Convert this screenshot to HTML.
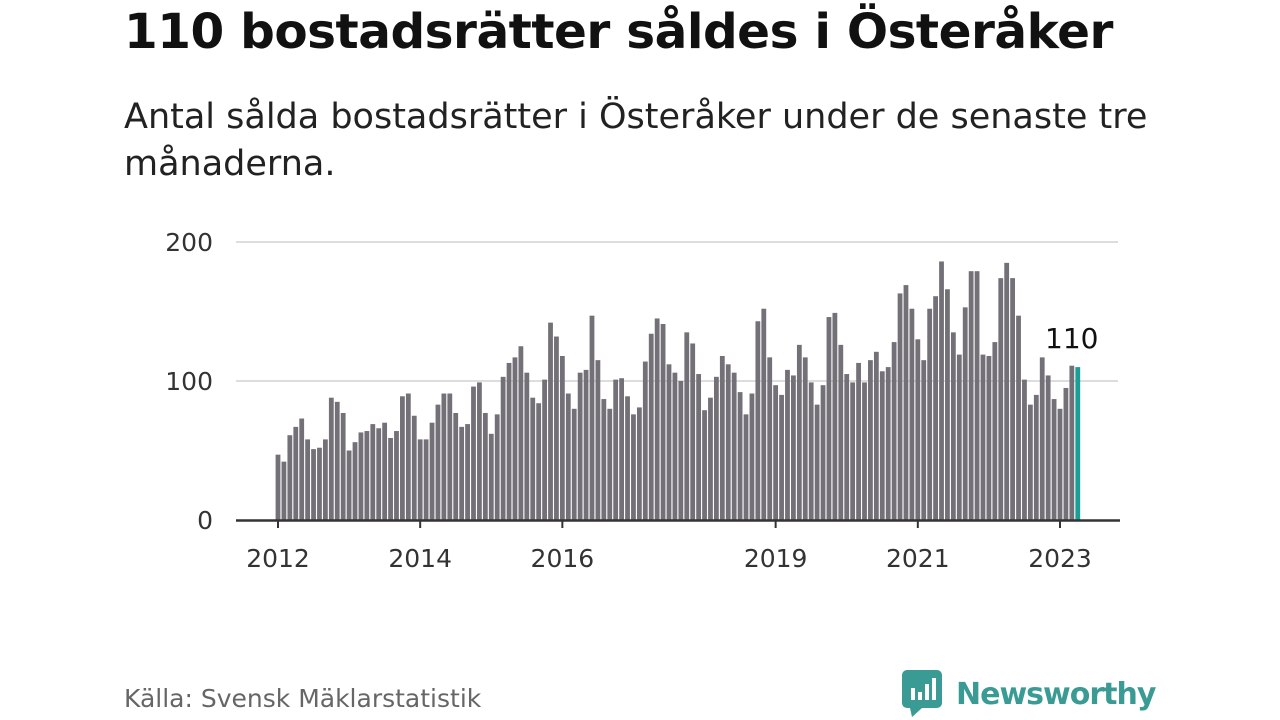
<!DOCTYPE html>
<html><head><meta charset="utf-8"><style>
body{margin:0;width:1280px;height:720px;background:#fff;font-family:"Liberation Sans","DejaVu Sans",sans-serif;position:relative;overflow:hidden}
.t{position:absolute;left:124px;top:4px;font-size:48.5px;font-weight:bold;color:#111;font-family:"DejaVu Sans","Liberation Sans",sans-serif;letter-spacing:-0.5px;white-space:nowrap}
.s{position:absolute;left:124px;top:94px;font-size:35px;line-height:47px;color:#222;width:1110px;font-family:"DejaVu Sans","Liberation Sans",sans-serif}
.src{position:absolute;left:124px;top:684px;font-size:25px;color:#666;font-family:"DejaVu Sans","Liberation Sans",sans-serif}
</style></head><body>
<div class="t">110 bostadsrätter såldes i Österåker</div>
<div class="s">Antal sålda bostadsrätter i Österåker under de senaste tre månaderna.</div>
<svg id="c" width="1280" height="720" style="position:absolute;left:0;top:0"></svg>
<div class="src">Källa: Svensk Mäklarstatistik</div>
<div style="position:absolute;left:902px;top:670px;display:flex;align-items:center">
<svg width="42" height="48"><rect x="0" y="0" width="40" height="38" rx="5" fill="#3a9b94"/><polygon points="8,38 20,38 10,47" fill="#3a9b94"/><rect x="9" y="18" width="4" height="12" fill="#fff"/><rect x="16" y="22" width="4" height="8" fill="#fff"/><rect x="23" y="14" width="4" height="16" fill="#fff"/><rect x="30" y="8" width="4" height="22" fill="#fff"/></svg>
<span style="margin-left:12px;font-size:30px;font-weight:bold;color:#3a9b94;font-family:'DejaVu Sans',sans-serif;letter-spacing:-1px">Newsworthy</span></div>
<script>
const values=[47,42,61,67,73,58,51,52,58,88,85,77,50,56,63,64,69,66,70,59,64,89,91,75,58,58,70,83,91,91,77,67,69,96,99,77,62,76,103,113,117,125,106,88,84,101,142,132,118,91,80,106,108,147,115,87,80,101,102,89,76,81,114,134,145,141,112,106,100,135,127,105,79,88,103,118,112,106,92,76,91,143,152,117,97,90,108,104,126,117,99,83,97,146,149,126,105,99,113,99,115,121,107,110,128,163,169,152,130,115,152,161,186,166,135,119,153,179,179,119,118,128,174,185,174,147,101,83,90,117,104,87,80,95,111,110];
const yTicks=[0,100,200];
const xTickYears=[2012,2014,2016,2019,2021,2023];
const startYear=2012;
const NS="http://www.w3.org/2000/svg",svg=document.getElementById('c');
const x=i=>278+i*(1060-278)/132, y=v=>520-v*1.39;
function mk(t,a){const e=document.createElementNS(NS,t);for(const k in a)e.setAttribute(k,a[k]);svg.appendChild(e);return e;}
yTicks.forEach(v=>{
 if(v>0){const g=mk('line',{x1:236,x2:1118,y1:y(v),y2:y(v),stroke:'#ddd','stroke-width':2});
 
 }
 const t=mk('text',{x:213,y:y(v)+9,'text-anchor':'end','font-size':25,fill:'#333','font-family':'DejaVu Sans,sans-serif'});t.textContent=v;
 
 
});
values.forEach((v,i)=>{
 const last=i===values.length-1;
 const r=mk('rect',{x:x(i)-2.4,y:y(v),width:4.8,height:v*1.39,fill:last?'#1a9e96':'#737177'});
 
 
});
const ax=mk('line',{x1:236,x2:1120,y1:520.5,y2:520.5,stroke:'#333','stroke-width':2.5});


xTickYears.forEach(yr=>{
 const xx=x((yr-startYear)*12);
 const tk=mk('line',{x1:xx,x2:xx,y1:520,y2:528,stroke:'#333','stroke-width':2});
 
 
 const t=mk('text',{x:xx,y:567,'text-anchor':'middle','font-size':25,fill:'#333','font-family':'DejaVu Sans,sans-serif'});t.textContent=yr;
 
 
});
const li=values.length-1;
const lb=mk('text',{x:x(li)-6,y:y(values[li])-19,'text-anchor':'middle','font-size':28,fill:'#111','font-family':'DejaVu Sans,sans-serif'});lb.textContent=values[li];


</script>
</body></html>
